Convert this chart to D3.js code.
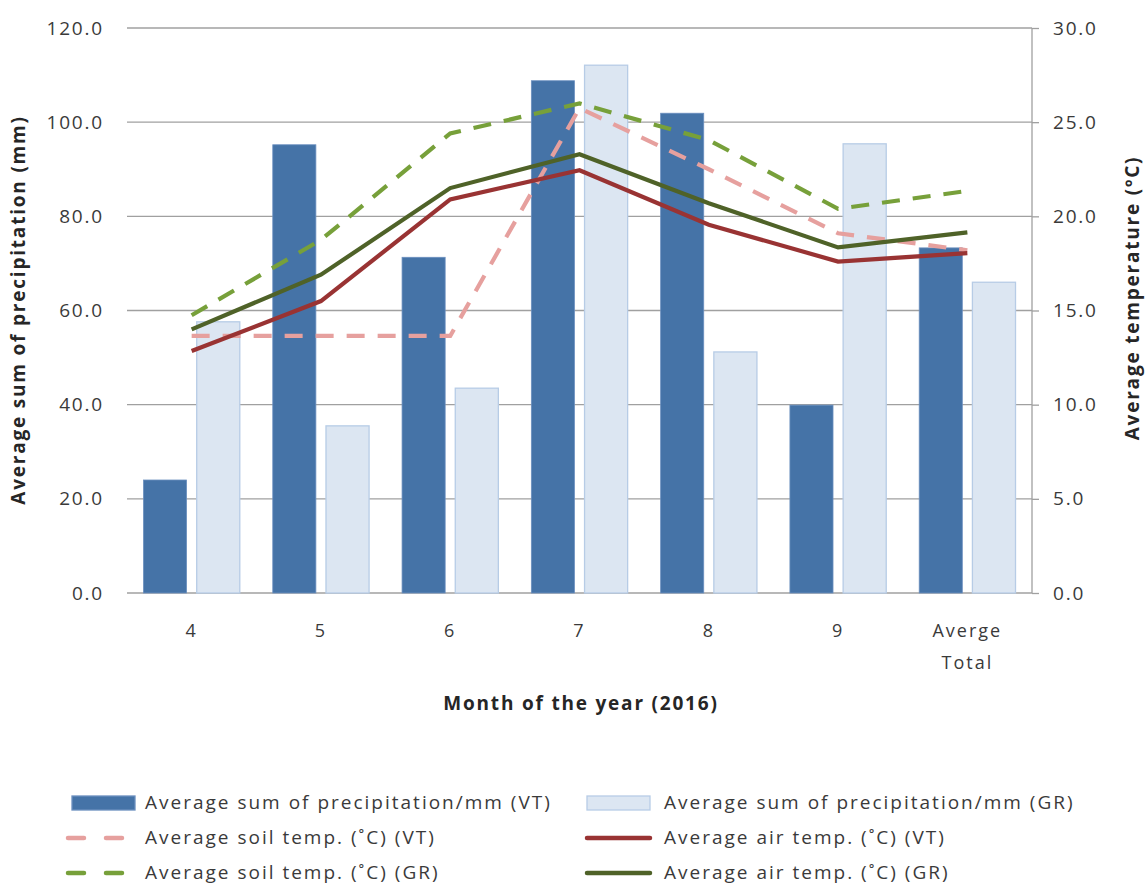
<!DOCTYPE html>
<html>
<head>
<meta charset="utf-8">
<script src="https://cdn.jsdelivr.net/npm/d3@7"></script>
<style>
  body { margin: 0; background: #fff; }
  svg { font-family: "Open Sans", sans-serif; }
</style>
</head>
<body>
<svg width="1145" height="889"></svg>
<script>
var months = ["4", "5", "6", "7", "8", "9", "Averge Total"];
var precipVT = [24.0, 95.2, 71.3, 108.8, 101.9, 39.9, 73.3];
var precipGR = [57.6, 35.5, 43.5, 112.1, 51.2, 95.4, 66.0];
var soilVT = [13.65, 13.65, 13.65, 25.75, 22.5, 19.1, 18.2];
var airVT = [12.85, 15.5, 20.9, 22.45, 19.55, 17.6, 18.05];
var soilGR = [14.75, 18.75, 24.4, 26.0, 24.05, 20.4, 21.35];
var airGR = [14.0, 16.9, 21.5, 23.3, 20.7, 18.35, 19.15];
var leftTicks = [0, 20, 40, 60, 80, 100, 120];
var rightTicks = [0, 5, 10, 15, 20, 25, 30];

var svg = d3.select("svg");
var plotLeft = 127, plotRight = 1032, plotTop = 28, plotBottom = 593;
var textColor = "#3a3a3a";

var x = d3.scaleBand().domain(months).range([plotLeft, plotRight]);
var xs = d3.scaleBand().domain(["VT", "GR"]).range([0, x.bandwidth()])
    .paddingInner(0.19).paddingOuter(0.31);
var y = d3.scaleLinear().domain([0, 120]).range([plotBottom, plotTop]);
var y2 = d3.scaleLinear().domain([0, 30]).range([plotBottom, plotTop]);

// gridlines
svg.append("g").selectAll("line")
  .data(leftTicks).enter().append("line")
  .attr("x1", plotLeft).attr("x2", plotRight)
  .attr("y1", function(d) { return y(d); })
  .attr("y2", function(d) { return y(d); })
  .attr("stroke", "#a0a0a0").attr("stroke-width", 1.3);

// left tick labels
svg.append("g")
  .attr("transform", "translate(" + plotLeft + ",0)")
  .call(d3.axisLeft(y).tickValues(leftTicks).tickSize(0).tickPadding(23)
    .tickFormat(d3.format(".1f")))
  .call(function(g) { g.select(".domain").remove(); })
  .selectAll("text")
  .attr("font-size", 19).attr("letter-spacing", 1.8)
  .attr("fill", textColor).attr("font-family", "Open Sans");

// right axis
var ra = svg.append("g")
  .attr("transform", "translate(" + plotRight + ",0)")
  .call(d3.axisRight(y2).tickValues(rightTicks).tickSize(7).tickPadding(14)
    .tickFormat(d3.format(".1f")));
ra.select(".domain").attr("stroke", "#a0a0a0").attr("stroke-width", 1.3)
  .attr("d", "M0," + plotTop + "V" + plotBottom);
ra.selectAll(".tick line").attr("stroke", "#a0a0a0").attr("stroke-width", 1.3);
ra.selectAll("text").attr("font-size", 19).attr("letter-spacing", 1.8)
  .attr("fill", textColor).attr("font-family", "Open Sans");

// bars
var bars = svg.append("g");
bars.selectAll(".vt").data(precipVT).enter().append("rect")
  .attr("x", function(d, i) { return x(months[i]) + xs("VT"); })
  .attr("y", function(d) { return y(d); })
  .attr("width", xs.bandwidth())
  .attr("height", function(d) { return plotBottom - y(d); })
  .attr("fill", "#4573a7").attr("stroke", "#6b8fbf").attr("stroke-width", 0.8);
bars.selectAll(".gr").data(precipGR).enter().append("rect")
  .attr("x", function(d, i) { return x(months[i]) + xs("GR"); })
  .attr("y", function(d) { return y(d); })
  .attr("width", xs.bandwidth())
  .attr("height", function(d) { return plotBottom - y(d); })
  .attr("fill", "#dce6f2").attr("stroke", "#b7cce6").attr("stroke-width", 1.3);

// lines
var line = d3.line()
  .x(function(d, i) { return x(months[i]) + x.bandwidth() / 2; })
  .y(function(d) { return y2(d); });

var series = [
  { values: soilVT, color: "#e6a09e", dash: "18,13" },
  { values: airVT, color: "#993333", dash: null },
  { values: soilGR, color: "#77a03a", dash: "18,13" },
  { values: airGR, color: "#4f6228", dash: null }
];
series.forEach(function(s) {
  svg.append("path").datum(s.values)
    .attr("d", line).attr("fill", "none")
    .attr("stroke", s.color).attr("stroke-width", 4.2)
    .attr("stroke-dasharray", s.dash);
});

// x labels
svg.append("g").selectAll("text").data(months).enter().append("text")
  .attr("x", function(d) { return x(d) + x.bandwidth() / 2; })
  .attr("y", 637)
  .attr("text-anchor", "middle")
  .attr("font-size", 18).attr("letter-spacing", 2)
  .attr("fill", textColor)
  .each(function(d) {
    var parts = d.split(" ");
    var t = d3.select(this);
    parts.forEach(function(p, j) {
      t.append("tspan").attr("x", x(d) + x.bandwidth() / 2)
        .attr("dy", j === 0 ? 0 : 32).text(p);
    });
  });

// axis titles
svg.append("text")
  .attr("x", 581).attr("y", 710)
  .attr("text-anchor", "middle").attr("font-size", 19).attr("font-weight", "bold")
  .attr("letter-spacing", 1.8)
  .attr("fill", "#262626")
  .text("Month of the year (2016)");

svg.append("text")
  .attr("transform", "translate(25,310) rotate(-90)")
  .attr("text-anchor", "middle").attr("font-size", 19).attr("font-weight", "bold")
  .attr("letter-spacing", 1.8)
  .attr("fill", "#262626")
  .text("Average sum of precipitation  (mm)");

svg.append("text")
  .attr("transform", "translate(1139,298) rotate(-90)")
  .attr("text-anchor", "middle").attr("font-size", 19).attr("font-weight", "bold")
  .attr("letter-spacing", 1.8)
  .attr("fill", "#262626")
  .text("Average temperature (ºC)");

// legend
var legendItems = [
  { label: "Average sum of precipitation/mm (VT)", type: "rect", fill: "#4573a7", stroke: "#6b8fbf", col: 0, row: 0 },
  { label: "Average sum of precipitation/mm (GR)", type: "rect", fill: "#dce6f2", stroke: "#b7cce6", col: 1, row: 0 },
  { label: "Average soil temp. (˚C) (VT)", type: "dash", stroke: "#e6a09e", col: 0, row: 1 },
  { label: "Average air temp.  (˚C) (VT)", type: "line", stroke: "#993333", col: 1, row: 1 },
  { label: "Average soil temp. (˚C) (GR)", type: "dash", stroke: "#77a03a", col: 0, row: 2 },
  { label: "Average air temp.  (˚C) (GR)", type: "line", stroke: "#4f6228", col: 1, row: 2 }
];
var colX = [68, 587], rowY = [803, 838, 873];
var lg = svg.append("g");
legendItems.forEach(function(it) {
  var x0 = colX[it.col], cy = rowY[it.row];
  if (it.type === "rect") {
    lg.append("rect").attr("x", x0 + (it.col === 0 ? 4 : 0)).attr("y", cy - 7)
      .attr("width", 63).attr("height", 14)
      .attr("fill", it.fill).attr("stroke", it.stroke).attr("stroke-width", 1.3);
  } else {
    lg.append("line").attr("x1", x0).attr("x2", x0 + 63)
      .attr("y1", cy).attr("y2", cy)
      .attr("stroke", it.stroke).attr("stroke-width", 4.5)
      .attr("stroke-linecap", "round")
      .attr("stroke-dasharray", it.type === "dash" ? "16,22" : null);
  }
  lg.append("text").attr("x", it.col === 0 ? 145 : 664).attr("y", cy + 6)
    .attr("font-size", 19).attr("letter-spacing", 2)
    .attr("fill", textColor).text(it.label);
});
</script>
</body>
</html>
